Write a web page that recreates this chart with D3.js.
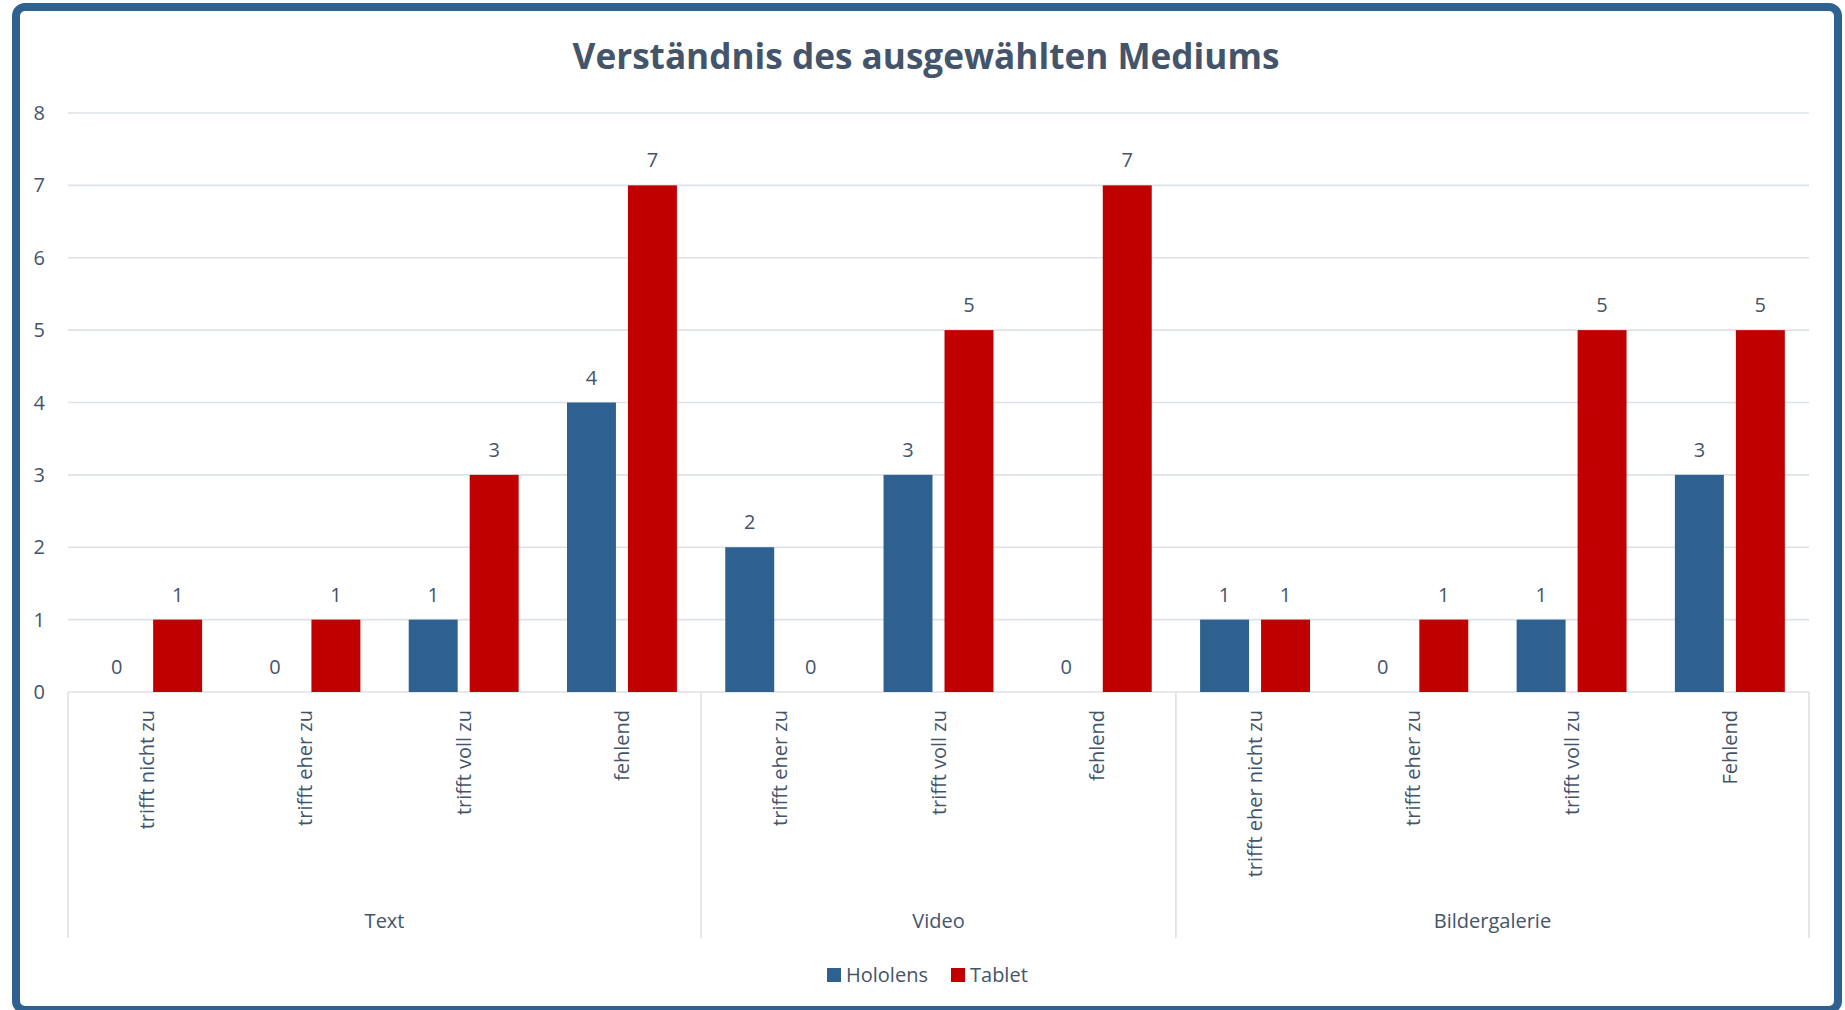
<!DOCTYPE html>
<html>
<head>
<meta charset="utf-8">
<script src="https://cdn.jsdelivr.net/npm/d3@7"></script>
<style>
  body { margin: 0; background: #fff; }
  text { font-family: "Open Sans", "Noto Sans", sans-serif; fill: #44546A; }
</style>
</head>
<body>
<script>
// data
var title = "Verständnis des ausgewählten Mediums";
var categories = ["trifft nicht zu", "trifft eher zu", "trifft voll zu", "fehlend",
                  "trifft eher zu", "trifft voll zu", "fehlend",
                  "trifft eher nicht zu", "trifft eher zu", "trifft voll zu", "Fehlend"];
var groupOf = ["Text", "Text", "Text", "Text", "Video", "Video", "Video",
               "Bildergalerie", "Bildergalerie", "Bildergalerie", "Bildergalerie"];
var groups = ["Text", "Video", "Bildergalerie"];
var seriesNames = ["Hololens", "Tablet"];
var hololens = [0, 0, 1, 4, 2, 3, 0, 1, 0, 1, 3];
var tablet = [1, 1, 3, 7, 0, 5, 7, 1, 1, 5, 5];
var yTicks = [0, 1, 2, 3, 4, 5, 6, 7, 8];
var colors = {Hololens: "#2E6190", Tablet: "#C00000"};

var W = 1845, H = 1010;
var plotLeft = 68, plotRight = 1809, plotTop = 113, plotBottom = 692;
var fs = 20;

var svg = d3.select("body").append("svg")
  .attr("width", W).attr("height", H);

svg.append("rect").attr("width", W).attr("height", H).attr("fill", "#fff");

// frame
svg.append("rect")
  .attr("x", 16).attr("y", 7).attr("width", 1822).attr("height", 1003)
  .attr("rx", 9).attr("fill", "none")
  .attr("stroke", "#2E6190").attr("stroke-width", 8);

var idx = d3.range(categories.length);
var x0 = d3.scaleBand().domain(idx).range([plotLeft, plotRight]);
var bw = x0.bandwidth();
var x1 = d3.scaleBand().domain(seriesNames)
  .range([bw * 0.1527, bw * 0.8473]).paddingInner(0.197);
var y = d3.scaleLinear().domain([0, 8]).range([plotBottom, plotTop]);

// gridlines
svg.append("g").selectAll("line").data(yTicks).enter().append("line")
  .attr("x1", plotLeft).attr("x2", plotRight)
  .attr("y1", function(d) { return y(d); })
  .attr("y2", function(d) { return y(d); })
  .attr("stroke", "#DDE2E8").attr("stroke-width", 1.6);

// y labels
svg.append("g").selectAll("text").data(yTicks).enter().append("text")
  .attr("x", 45).attr("y", function(d) { return y(d) + 7; })
  .attr("text-anchor", "end").attr("font-size", fs)
  .text(function(d) { return d; });

// bars
var rows = idx.map(function(i) {
  return [{s: "Hololens", v: hololens[i], i: i}, {s: "Tablet", v: tablet[i], i: i}];
});
var cat = svg.append("g").selectAll("g").data(rows).enter().append("g")
  .attr("transform", function(d, i) { return "translate(" + x0(i) + ",0)"; });

cat.selectAll("rect").data(function(d) { return d; }).enter().append("rect")
  .attr("x", function(d) { return x1(d.s); })
  .attr("width", x1.bandwidth())
  .attr("y", function(d) { return y(d.v); })
  .attr("height", function(d) { return y(0) - y(d.v); })
  .attr("fill", function(d) { return colors[d.s]; });

cat.selectAll("text").data(function(d) { return d; }).enter().append("text")
  .attr("x", function(d) { return x1(d.s) + x1.bandwidth() / 2; })
  .attr("y", function(d) { return y(d.v) - 18; })
  .attr("text-anchor", "middle").attr("font-size", fs)
  .text(function(d) { return d.v; });

// category labels, rotated
svg.append("g").selectAll("text").data(idx).enter().append("text")
  .attr("transform", function(i) {
    return "translate(" + (x0(i) + bw / 2 + 7) + ",710) rotate(-90)";
  })
  .attr("text-anchor", "end").attr("font-size", fs)
  .text(function(i) { return categories[i]; });

// group separators and labels
var bounds = [0];
groups.forEach(function(g) {
  bounds.push(bounds[bounds.length - 1] + groupOf.filter(function(c) { return c === g; }).length);
});
var bx = bounds.map(function(b) { return plotLeft + b * bw; });
svg.append("g").selectAll("line").data(bx).enter().append("line")
  .attr("x1", function(d) { return d; }).attr("x2", function(d) { return d; })
  .attr("y1", plotBottom).attr("y2", 938)
  .attr("stroke", "#DDE2E8").attr("stroke-width", 1.6);

svg.append("g").selectAll("text").data(groups).enter().append("text")
  .attr("x", function(g, i) { return (bx[i] + bx[i + 1]) / 2; })
  .attr("y", 928).attr("text-anchor", "middle").attr("font-size", fs)
  .text(function(g) { return g; });

// title, sized to the reference width
var t = svg.append("text")
  .attr("x", 926).attr("y", 69).attr("text-anchor", "middle")
  .attr("font-size", 28).attr("font-weight", "bold")
  .text(title);
var tw = t.node().getComputedTextLength();
t.attr("font-size", 28 * 707 / tw);

// legend
var leg = svg.append("g");
var lx = [827, 951];
seriesNames.forEach(function(s, i) {
  leg.append("rect").attr("x", lx[i]).attr("y", 968).attr("width", 14).attr("height", 14)
    .attr("fill", colors[s]);
  leg.append("text").attr("x", lx[i] + 19).attr("y", 982).attr("font-size", fs).text(s);
});
</script>
</body>
</html>
